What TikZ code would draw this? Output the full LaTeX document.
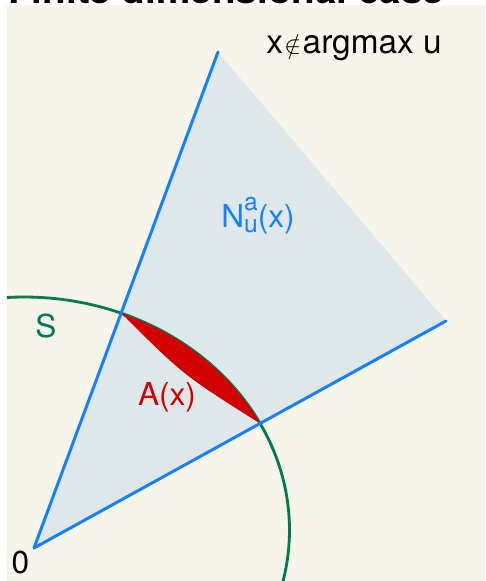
\documentclass[tikz,border=0pt]{standalone}
\usepackage{fontspec}
\setmainfont{TeX Gyre Heros}
\usepackage{xcolor}
\usepackage{tikz}
\usetikzlibrary{calc,intersections}

\definecolor{cream}{RGB}{247,245,234}
\definecolor{conefill}{RGB}{222,232,234}
\definecolor{coneblue}{RGB}{22,128,255}
\definecolor{sgreen}{RGB}{0,122,82}
\definecolor{lensred}{RGB}{210,0,0}

\begin{document}
\begin{tikzpicture}[x=0.02cm, y=-0.02cm,
  ray/.style={coneblue, line width=1.7pt, line cap=round},
  lbl/.style={font=\fontsize{18}{20}\selectfont, inner sep=0pt, anchor=base}]
  \useasboundingbox (0,0) rectangle (485,581);
  % heading, cut off by the top edge
  \begin{scope}
    \clip (0,0) rectangle (485,5);
    \node[lbl, font=\fontsize{22}{24}\selectfont\bfseries, anchor=base west] (title) at (8,4) {Finite dimensional case};
  \end{scope}
  \fill[cream] (7,5) rectangle (485,581);
  % the cone
  \coordinate (O) at (34,548);
  \coordinate (T) at (218,52);
  \coordinate (R) at (446,321);
  \fill[conefill] (O) -- (T) -- (R) -- cycle;
  % the sphere S
  \draw[sgreen, line width=1.6pt, name path=sphere]
    plot[domain=-12.7:93.7, samples=120, smooth] ({24+265.5*cos(\x)}, {530-233*sin(\x)});
  \path[name path=upper] (O) -- (T);
  \path[name path=lower] (O) -- (R);
  \path[name intersections={of=sphere and upper, by=P1}];
  \path[name intersections={of=sphere and lower, by=P2}];
  % the lens A(x)
  \begin{scope}
    \clip (P1) .. controls ($(P1)!0.5!(P2)+(-7,7)$) .. (P2) -- (262,280) -- cycle;
    \fill[lensred] (24,530) ellipse [x radius=265.5, y radius=233];
  \end{scope}
  \draw[ray] (O) -- (T);
  \draw[ray] (O) -- (R);
  % labels
  \node[lbl, font=\fontsize{19}{21}\selectfont] (notmax) at (354,54) {x\kern0.8pt{\fontsize{14}{14}\selectfont$\notin$}\kern0.8pt argmax u};
  \node[lbl, coneblue] (nlabel) at (258,227)
    {N\rlap{\raisebox{9.5pt}{\fontsize{14}{14}\selectfont a}}\raisebox{-3.4pt}{\fontsize{14}{14}\selectfont u}(x)};
  \node[lbl, sgreen] (slabel) at (46,337) {S};
  \node[lbl, lensred] (alabel) at (167,405) {A(x)};
  \node[lbl] (zero) at (20.5,573) {0};
\end{tikzpicture}
\end{document}
